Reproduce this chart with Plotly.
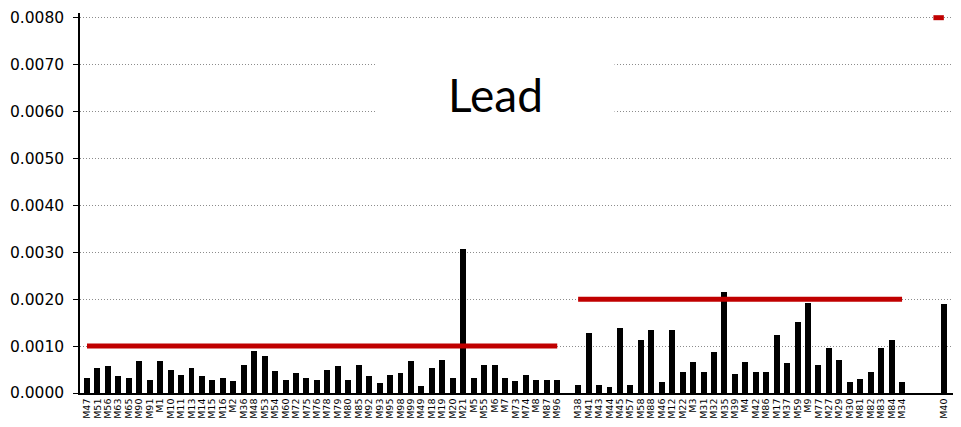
import plotly.graph_objects as go

group1_labels = ["M47","M51","M56","M63","M65","M90","M91","M1","M10","M11","M13","M14","M15","M16","M2","M36",
                 "M48","M53","M54","M60","M72","M75","M76","M78","M79","M80","M85","M92","M93","M95","M98","M99",
                 "M49","M18","M19","M20","M21","M5","M55","M6","M7","M73","M74","M8","M87","M96"]
group1_values = [0.00032,0.00053,0.00057,0.00036,0.00032,0.00068,0.00028,0.00068,0.00050,0.00039,0.00053,0.00036,
                 0.00028,0.00032,0.00025,0.00060,0.00089,0.00078,0.00046,0.00028,0.00043,0.00032,0.00028,0.00050,
                 0.00057,0.00028,0.00060,0.00036,0.00021,0.00039,0.00043,0.00068,0.00014,0.00053,0.00071,0.00032,
                 0.00307,0.00032,0.00060,0.00060,0.00032,0.00025,0.00039,0.00028,0.00028,0.00028]
group2_labels = ["M38","M41","M43","M44","M45","M57","M58","M88","M46","M12","M22","M3","M31","M32","M35","M39",
                 "M4","M42","M86","M17","M37","M59","M9","M77","M27","M29","M30","M81","M82","M83","M84","M34"]
group2_values = [0.00016,0.00127,0.00016,0.00012,0.00138,0.00016,0.00113,0.00134,0.00023,0.00134,0.00045,0.00067,
                 0.00045,0.00088,0.00216,0.00040,0.00067,0.00045,0.00045,0.00124,0.00063,0.00152,0.00191,0.00060,
                 0.00095,0.00070,0.00023,0.00030,0.00045,0.00095,0.00113,0.00023]
group3_labels = ["M40"]
group3_values = [0.00189]

limit1 = 0.001
limit2 = 0.002
limit3 = 0.008

y_ticks = [0.0, 0.001, 0.002, 0.003, 0.004, 0.005, 0.006, 0.007, 0.008]

labels = group1_labels + [""] + group2_labels + ["", "", ""] + group3_labels
values = group1_values + [None] + group2_values + [None, None, None] + group3_values
limits = ([limit1] * len(group1_labels) + [None] + [limit2] * len(group2_labels)
          + [None, None, limit3] + [limit3] * len(group3_labels))
xs = list(range(len(labels)))

tickvals = [i for i, l in enumerate(labels) if l]
ticktext = [l for l in labels if l]

fig = go.Figure()
fig.add_trace(go.Bar(x=xs, y=values, marker=dict(color="black", line=dict(width=0)), width=0.57))
fig.add_trace(go.Scatter(x=xs, y=limits, mode="lines", line=dict(color="#C00000", width=5),
                         connectgaps=False, hoverinfo="skip"))

fig.update_layout(
    width=953, height=419,
    margin=dict(l=72, r=0, t=5, b=34),
    paper_bgcolor="white", plot_bgcolor="white",
    showlegend=False,
    bargap=0,
    font=dict(family="DejaVu Sans", color="black"),
    annotations=[dict(text="Lead", xref="paper", yref="paper", x=0.472, y=0.787,
                      showarrow=False, font=dict(family="Lato", size=46, color="black"),
                      bgcolor="white", width=235, height=80, xanchor="center", yanchor="middle")],
)
fig.update_xaxes(range=[-0.67, 83.64], tickmode="array", tickvals=tickvals, ticktext=ticktext,
                 tickangle=-90, tickfont=dict(size=9.5, family="DejaVu Sans", color="black"),
                 showline=True, linecolor="black", linewidth=1.5, ticks="", showgrid=False,
                 zeroline=False, automargin=False)
fig.update_yaxes(range=[0, 0.0081], tickmode="array", tickvals=y_ticks, tickformat=".4f",
                 tickfont=dict(size=15.5, family="DejaVu Sans", color="black"),
                 ticklabelstandoff=6,
                 showline=True, linecolor="black", linewidth=1.5, ticks="outside", ticklen=5,
                 tickcolor="black", showgrid=True, gridcolor="#8c8c8c", griddash="1px,2px", gridwidth=1,
                 zeroline=False, automargin=False)

fig.write_html("out.html")
